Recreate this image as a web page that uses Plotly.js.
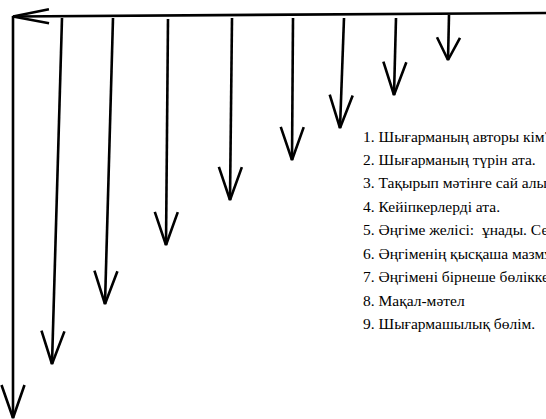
<!DOCTYPE html>
<html>
<head>
<meta charset="utf-8">
<script src="https://cdn.plot.ly/plotly-3.0.1.min.js"></script>
<style>html,body{margin:0;padding:0;background:#fff;}#chart{width:546px;height:419px;}</style>
</head>
<body>
<div id="chart"></div>
<script>
// Items of the list (Kazakh)
const items = [
  "1. Шығарманың авторы кім?",
  "2. Шығарманың түрін ата.",
  "3. Тақырып мәтінге сай алынған ба?",
  "4. Кейіпкерлерді ата.",
  "5. Әңгіме желісі:  ұнады. Себебі...",
  "6. Әңгіменің қысқаша мазмұны.",
  "7. Әңгімені бірнеше бөлікке бөл.",
  "8. Мақал-мәтел",
  "9. Шығармашылық бөлім."
];
const itemY = [136, 159, 182, 206, 229, 253, 276, 300, 323];

// Downward arrows: start and tip points
const arrowTopX = [13, 62, 113, 168, 232, 293, 344, 396, 449];
const arrowTopY = [16, 18, 18, 19, 18, 18, 18, 18, 15];
const arrowTipX = [13, 52, 105, 166, 230, 292, 340, 394, 448];
const arrowTipY = [418, 364, 304, 245, 200, 160, 128, 95, 60];

// Horizontal arrow (pointing left)
const hLineX = [546, 13];
const hLineY = [13, 16.5];

const HEAD_LEN = 33, HEAD_HALF = 11.5;
const traces = [];
const lineStyle = {color: '#000', width: 2.6};

function addArrow(x0, y0, x1, y1, len, half) {
  const dx = x1 - x0, dy = y1 - y0;
  const L = Math.hypot(dx, dy);
  const ux = dx / L, uy = dy / L;
  const hl = Math.min(len, L * 0.5);
  const bx = x1 - ux * hl, by = y1 - uy * hl;
  const px = -uy, py = ux;
  traces.push({
    type: 'scatter', mode: 'lines', hoverinfo: 'skip',
    x: [x0, x1, null, bx + px * half, x1, bx - px * half],
    y: [y0, y1, null, by + py * half, y1, by - py * half],
    line: lineStyle
  });
}

addArrow(hLineX[0], hLineY[0], hLineX[1], hLineY[1], 36, 7);
for (let i = 0; i < arrowTopX.length; i++) {
  addArrow(arrowTopX[i], arrowTopY[i], arrowTipX[i], arrowTipY[i], HEAD_LEN, HEAD_HALF);
}

const annotations = items.map((t, i) => ({
  x: 361, y: itemY[i], xref: 'x', yref: 'y', text: t, showarrow: false,
  xanchor: 'left', yanchor: 'middle',
  font: {family: '"Liberation Serif", "Times New Roman", serif', size: 15.5, color: '#000'}
}));

const layout = {
  width: 546, height: 419,
  margin: {l: 0, r: 0, t: 0, b: 0},
  paper_bgcolor: '#fff', plot_bgcolor: '#fff',
  showlegend: false,
  xaxis: {range: [0, 546], visible: false, fixedrange: true},
  yaxis: {range: [419, 0], visible: false, fixedrange: true},
  annotations: annotations
};

Plotly.newPlot('chart', traces, layout, {displayModeBar: false, staticPlot: true});
</script>
</body>
</html>
